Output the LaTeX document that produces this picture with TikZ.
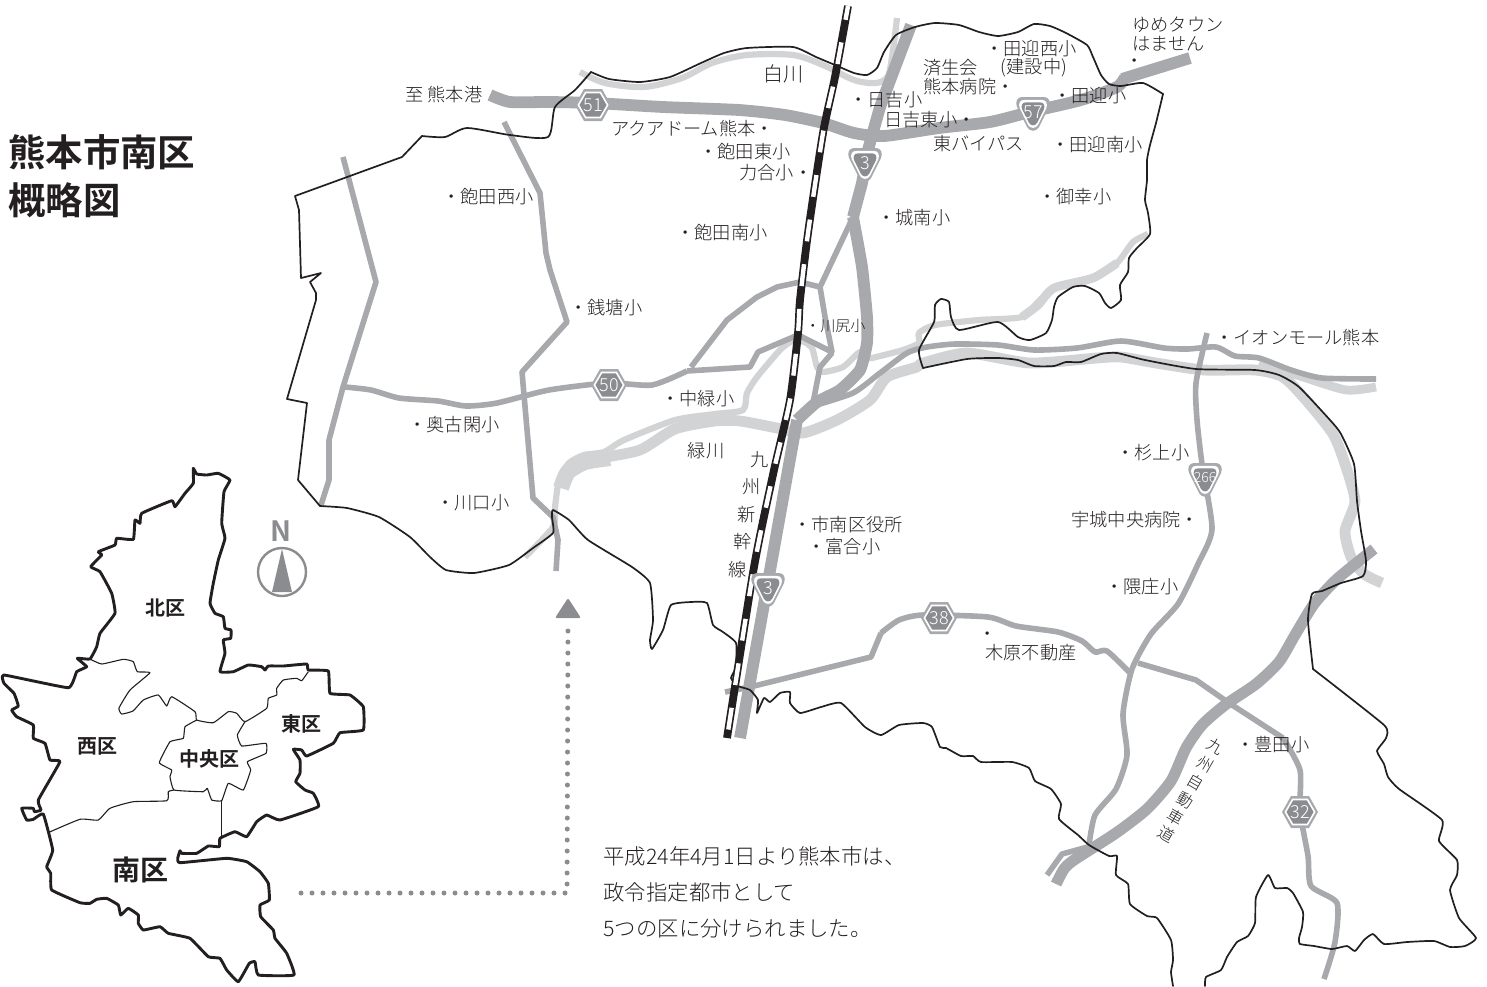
\documentclass[tikz,border=0pt]{standalone}
\usepackage{fontspec}
\setmainfont[BoldFont={Noto Sans CJK JP Bold}]{Noto Sans CJK JP Light}
\definecolor{ink}{HTML}{231F20}
\definecolor{roadc}{HTML}{A7A9AC}
\definecolor{riverc}{HTML}{D1D3D4}
\definecolor{signc}{HTML}{8A8C8F}
\newcommand{\hexsign}[4]{%
 \begin{scope}[shift={(#2,#3)}]
 \fill[roadc] (-18,0)--(-9,-16)--(9,-16)--(18,0)--(9,16)--(-9,16)--cycle;
 \fill[white] (-15.5,0)--(-7.8,-13.4)--(7.8,-13.4)--(15.5,0)--(7.8,13.4)--(-7.8,13.4)--cycle;
 \fill[signc] (-13.5,0)--(-6.8,-11.6)--(6.8,-11.6)--(13.5,0)--(6.8,11.6)--(-6.8,11.6)--cycle;
 \node[signtxt] (#1) at (0,0) {#4};
 \end{scope}}
\newcommand{\shieldpath}{(-11,-17)--(11,-17) .. controls (16,-17) and (18,-12) .. (16,-7)--(6,13) .. controls (3,18) and (-3,18) .. (-6,13)--(-16,-7) .. controls (-18,-12) and (-16,-17) .. (-11,-17)--cycle}
\newcommand{\shieldsign}[5][9]{%
 \begin{scope}[shift={(#3,#4)}]
 \fill[roadc] \shieldpath;
 \fill[white,scale=.83] \shieldpath;
 \fill[signc,scale=.68] \shieldpath;
 \node[signtxt,font=\fontsize{#1}{#1}\selectfont] (#2) at (0,-2) {#5};
 \end{scope}}
\tikzset{
 boundary/.style={draw=ink,line width=.85pt,line join=round,line cap=round},
 wardout/.style={draw=ink,line width=1.45pt,line join=round},
 wardin/.style={draw=ink,line width=.55pt,line join=round},
 roadthin/.style={draw=roadc,line width=2.8pt,line join=round},
 roadthick/.style={draw=roadc,line width=5.9pt,line join=round},
 riverthin/.style={draw=riverc,line width=3.1pt,line join=round},
 riverthick/.style={draw=riverc,line width=5.4pt,line join=round},
 signtxt/.style={text=white,font=\fontsize{9}{9}\selectfont,inner sep=0pt},
 lab/.style={anchor=west,inner sep=0pt,text=ink,font=\fontsize{9.1}{9.1}\selectfont},
 labc/.style={inner sep=0pt,text=ink,font=\fontsize{9.1}{9.1}\selectfont},
 ward/.style={inner sep=0pt,text=ink,font=\fontsize{10}{10}\selectfont\bfseries},
 note/.style={anchor=west,inner sep=0pt,text=ink,font=\fontsize{10.7}{10.7}\selectfont},
 title/.style={anchor=west,inner sep=0pt,text=ink,font=\fontsize{18.7}{18.7}\selectfont\bfseries},
}
\begin{document}
\begin{tikzpicture}[x=0.5pt,y=-0.5pt]
\useasboundingbox (0,0) rectangle (1487,986);
% rivers
\draw[riverthin] plot[smooth,tension=.5] coordinates {(580,72)(605,83)(644,87)(682,78)(712,63)(747,55)(793,55)(823,65)(854,80)(876,83)(888,76)(893,50)(897,18)};
\draw[riverthin] plot[smooth,tension=.4] coordinates {(1148,234)(1133,242)(1117,263)(1093,278)(1054,288)(1038,302)(1022,317)(979,320)(935,325)(919,333)(919,343)(903,350)(876,357)(870,358)(860,352)(843,367)(823,372)(817,367)(812,348)(802,341)(792,341)(780,350)(757,377)(747,393)(743,410)(715,414)(675,420)(624,440)(604,452)(584,455)(569,463)(559,480)(555,507)(553,527)(525,557)};
\draw[riverthin,line width=4.4pt] plot[smooth,tension=.4] coordinates {(1117,263)(1093,278)(1054,288)(1038,305)(1022,317)};
\draw[riverthick] plot[smooth,tension=.4] coordinates {(1382,583)(1364,574)(1351,557)(1345,531)(1355,501)(1345,464)(1333,434)(1306,400)(1283,377)(1255,370)(1204,370)(1156,363)(1121,357)(1097,358)(1030,363)(967,353)(923,363)(917,367)(887,377)(870,400)(837,420)(803,433)(777,428)(740,421)(715,421)(675,429)(640,450)(600,458)(575,462)};
\draw[riverthick,line width=8pt] plot[smooth,tension=.4] coordinates {(610,458)(585,462)(568,472)(561,488)};
\draw[riverthick,line width=4.4pt] plot[smooth,tension=.4] coordinates {(1259,363)(1300,376)(1346,390)(1376,387)};
% roads
\draw[roadthick] plot[smooth,tension=.4] coordinates {(490,95)(510,102)(548,102)(594,103)(663,107)(739,110)(785,115)(823,123)(854,133)(884,136)(939,128)(990,122)(1030,112)(1081,100)(1117,87)(1125,77)};
\draw[roadthick] (1122,79)--(1190,58);
\draw[roadthick] (911,25)--(880,107)--(868,150)--(862,183)--(853,217);
\draw[roadthick] plot[smooth,tension=.3] coordinates {(853,217)(862,267)(867,317)(867,343)(860,370)(840,390)(817,402)(797,420)};
\draw[roadthick] (797,420)--(740,738);
\draw[roadthin] (343,157)--(376,282)--(343,387)--(329,440)--(329,480)--(321,505);
\draw[roadthin] (504,122)--(540,193)--(546,253)--(550,270)--(567,322)--(522,372)--(533,498)--(553,517)--(558,540)--(556,571);
\draw[roadthin] plot[smooth,tension=.4] coordinates {(345,387)(371,390)(399,398)(438,401)(466,406)(497,403)(549,390)(608,383)(652,385)(687,371)};
\draw[roadthin] (687,371)--(750,367)--(758,352)--(798,335)--(832,352)--(825,317)--(820,287)--(800,282)--(777,287)--(757,297)--(727,320)--(691,367);
\draw[roadthin] (853,217)--(820,287);
\draw[roadthin] (832,353)--(820,367)--(813,403);
\draw[roadthin] plot[smooth,tension=.4] coordinates {(813,406)(853,393)(880,373)(907,353)(927,347)(955,344)(998,345)(1034,350)(1077,348)(1121,341)(1164,348)(1188,349)(1216,347)(1235,356)(1259,358)(1291,370)(1322,378)(1376,379)};
\draw[roadthin] plot[smooth,tension=.4] coordinates {(1207,333)(1196,383)(1197,420)(1202,464)(1212,529)(1198,564)(1178,604)(1151,634)(1132,669)(1123,714)(1127,755)(1116,789)(1095,815)(1089,845)};
\draw[roadthin] (725,692)--(750,687)--(871,657)--(881,633) plot[smooth,tension=.4] coordinates {(881,633)(899,620)(923,615)(988,617)(1016,626)(1058,632)(1082,641)(1095,652)(1107,651)(1130,673)};
\draw[roadthin] (1138,663)--(1196,680)--(1229,703)--(1283,738) plot[smooth,tension=.4] coordinates {(1283,738)(1300,770)(1300,811)(1308,856)(1311,886)(1337,903)(1335,942)(1324,979)};
\draw[roadthin] (1095,845)--(1062,854)--(1047,875);
\draw[roadthick,line width=5.6pt] plot[smooth,tension=.4] coordinates {(1374,549)(1337,579)(1314,604)(1295,635)(1279,662)(1256,684)(1225,705)(1202,725)(1186,748)(1171,781)(1147,809)(1116,833)(1074,860)(1064,869)(1056,884)};
% boundary of Minami-ku
\draw[boundary] plot[smooth,tension=.35] coordinates {(591,72)(609,79)(640,82)(670,77)(701,63)(724,53)(747,48)(793,47)(816,57)(835,65)(854,73)(867,75)(877,68)(884,52)(896,35)(915,27)(935,23)(959,25)(979,32)(998,36)(1018,32)(1034,24)(1050,26)(1066,33)(1087,45)(1093,57)(1101,75)(1109,84)(1121,86)(1143,83)(1163,94)};
\draw[boundary] plot[smooth,tension=.35] coordinates {(1163,94)(1156,123)(1150,145)(1147,160)(1147,180)(1145,200)(1148,213)(1150,234)(1137,248)(1129,258)(1128,272)(1120,285)(1121,300)(1111,308)(1105,303)(1099,293)(1085,286)(1073,287)(1058,297)(1054,307)(1052,320)(1046,333)(1030,340)(1018,337)(998,322)(959,330)(951,317)(949,302)(941,299)(935,305)(934,322)(919,350)(923,368)};
\draw[boundary] plot[smooth,tension=.35] coordinates {(923,368)(967,359)(998,358)(1018,360)(1034,366)(1054,366)(1066,362)(1081,362)(1101,354)(1117,353)(1145,360)(1196,369)(1255,370)(1279,375)(1299,387)(1330,420)(1341,434)(1354,464)(1357,501)(1361,531)(1366,561)(1363,576)(1341,583)(1322,591)(1312,594)(1308,620)(1313,669)};
\draw[boundary] plot[smooth,tension=.3] coordinates {(1313,669)(1384,725)(1386,738)(1377,751)(1384,764)(1388,777)(1399,789)(1442,820)(1439,841)(1457,860)(1457,875)(1450,890)(1459,918)(1476,938)(1465,946)(1450,947)(1434,941)(1407,942)(1384,944)(1373,934)(1364,940)(1355,951)(1347,946)(1332,949)(1314,946)(1300,944)(1299,938)(1302,927)(1303,912)(1293,893)(1287,888)(1275,888)(1268,875)(1256,897)(1255,923)(1248,936)(1237,942)(1227,957)(1221,970)(1206,977)(1205,986)};
\draw[boundary] plot[smooth,tension=.3] coordinates {(1173,986)(1171,972)(1173,960)(1171,940)(1157,918)(1147,916)(1130,904)(1128,884)(1116,875)(1117,856)(1109,856)(1089,845)(1078,835)(1059,819)(1061,804)(1051,789)(1035,781)(1029,768)(1012,762)(981,762)(973,756)(961,756)(946,748)(940,747)(932,727)(923,723)(899,725)(881,735)(865,727)(841,703)(821,707)(800,713)(790,703)(790,692)(780,693)(770,702)(764,698)(757,713)(758,700)(750,690)(738,686)(731,678)(736,667)(736,643)(723,632)(713,625)(707,603)(691,602)(671,605)(663,630)(652,649)(650,640)(653,620)(650,583)(632,567)(588,540)(569,520)(553,510)(552,517)(553,533)(533,548)(509,565)(474,573)(446,570)(430,557)(410,537)(379,517)(347,508)(320,506)};
\draw[boundary] (320,506)--(298,480)--(307,403)--(287,399)--(316,300)--(316,293)--(310,282)--(321,273)--(301,278)--(299,210)--(295,196)--(402,157)--(422,136);
\draw[boundary] plot[smooth,tension=.4] coordinates {(422,136)(445,137)(467,128)(510,135)(548,137)(555,107)(575,90)(591,72)};
% railway
\coordinate (railtop) at (848,6);
\coordinate (railend) at (727,738);
\path[draw=ink,line width=3.9pt] plot[smooth,tension=.4] coordinates {(railtop)(835,77)(823,133)(808,233)(800,300)(798,333)(790,400)(774,470)(754,567)(railend)};
\path[draw=white,line width=2.2pt,dash pattern=on 11pt off 11.5pt,dash phase=4pt] plot[smooth,tension=.4] coordinates {(railtop)(835,77)(823,133)(808,233)(800,300)(798,333)(790,400)(774,470)(754,567)(railend)};
% signs
\hexsign{s51}{593}{105}{51}
\hexsign{s50}{609}{385}{50}
\hexsign{s38}{939}{618}{38}
\hexsign{s32}{1300}{812}{32}
\shieldsign{s3a}{865}{165}{3}
\shieldsign{s57}{1033}{114}{57}
\shieldsign[7]{s266}{1205}{480}{266}
\shieldsign{s3b}{768}{590}{3}
% labels
\node[lab] (l01) at (405,95) {至 熊本港};
\node[labc,font=\fontsize{10}{10}\selectfont] (l02) at (783,74) {白川};
\node[lab] (l03) at (611,129) {アクアドーム熊本・};
\node[lab] (l04) at (699,152) {・飽田東小};
\node[lab] (l05) at (739,173) {力合小・};
\node[lab] (l06) at (442,197) {・飽田西小};
\node[lab] (l07) at (676,233) {・飽田南小};
\node[lab] (l08) at (569,308) {・銭塘小};
\node[lab] (l09) at (877,218) {・城南小};
\node[lab] (l10) at (849,100) {・日吉小};
\node[lab] (l11) at (884,120) {日吉東小・};
\node[lab] (l12) at (933,144) {東バイパス};
\node[lab] (l13) at (923,68) {済生会};
\node[lab] (l14) at (923,87) {熊本病院・};
\node[lab] (l15) at (985,49) {・田迎西小};
\node[labc] (l16) at (1034,68) {(建設中)};
\node[lab] (l17) at (1053,96) {・田迎小};
\node[lab] (l18) at (1132,25) {ゆめタウン};
\node[lab] (l19) at (1132,44) {はません};
\node[labc] (l20) at (1135,63) {・};
\node[lab] (l21) at (1051,145) {・田迎南小};
\node[lab] (l22) at (1038,197) {・御幸小};
\node[lab] (l23) at (1215,338) {・イオンモール熊本};
\node[lab,font=\fontsize{7.5}{7.5}\selectfont] (l24) at (805,326) {・川尻小};
\node[lab] (l25) at (661,399) {・中緑小};
\node[lab] (l26) at (408,425) {・奥古閑小};
\node[lab] (l27) at (436,503) {・川口小};
\node[labc] (l28) at (706,451) {緑川};
\node[labc] (k1) at (760,460) {九};
\node[labc] (k2) at (752,487) {州};
\node[labc] (k3) at (747,515) {新};
\node[labc] (k4) at (743,542) {幹};
\node[labc] (k5) at (738,570) {線};
\node[lab] (l29) at (793,525) {・市南区役所};
\node[lab] (l30) at (807,547) {・富合小};
\node[lab] (l31) at (1116,453) {・杉上小};
\node[lab] (l32) at (1071,520) {宇城中央病院・};
\node[lab] (l33) at (1105,587) {・隈庄小};
\node[labc] (l34) at (988,636) {・};
\node[lab] (l35) at (985,653) {木原不動産};
\node[lab] (l36) at (1236,745) {・豊田小};
\tikzset{expr/.style={labc,rotate=-30,font=\fontsize{8}{8}\selectfont}}
\node[expr] (e1) at (1215,746) {九};
\node[expr] (e2) at (1205,764) {州};
\node[expr] (e3) at (1195,782) {自};
\node[expr] (e4) at (1185,800) {動};
\node[expr] (e5) at (1175,817) {車};
\node[expr] (e6) at (1166,834) {道};
% title
\node[title] (t1) at (8,152) {熊本市南区};
\node[title] (t2) at (8,200) {概略図};
% ward map
\draw[wardout] plot[smooth cycle,tension=.2] coordinates {(193.3,468.3)(196.7,474)(206.7,475)(218.3,473.3)(230,480)(224,491.7)(221.7,523.3)(225,538.3)(218.3,560)(213.3,583.3)(210,603.3)(215,613.3)(223.3,616.7)(225,628.3)(231,630)(230.7,638.3)(223.3,640)(225,653.3)(220,671.7)(233.3,671.7)(248.3,665)(261.7,666.7)(265,670)(268.3,666)(283.3,666)(306.7,664)(308.3,670)(328.3,671)(330,693.3)(350,695)(363.3,706.7)(363.3,730)(340,732.7)(333.3,743.3)(306.7,756)(301.7,750)(293.3,749.3)(300,760)(300,773.3)(295.7,781.7)(305,790)(313.3,793.3)(318.3,806.7)(280,820)(266.7,815)(256.7,821.7)(246.7,836.7)(235,831.7)(220,838.3)(219.3,846.7)(208.3,846)(196.7,853.3)(181.7,853.3)(180,850.7)(177.7,858.3)(180,862.7)(226.7,858.3)(246.7,861.7)(260,871.7)(268.3,883.3)(269.3,900)(260,905)(260.7,916.7)(273.3,930)(275,938.3)(286.7,953.3)(294,975)(258.3,975)(255,961.7)(249.3,963.3)(238.3,981.7)(226.7,970)(220,958.3)(208.3,956.7)(190,938.3)(168.3,933.3)(160,926.7)(143.3,930)(138.3,923.3)(138.3,915)(128.3,908.3)(120.7,915)(118.3,905)(106.7,898.3)(96.7,899.3)(90,903.3)(80,902.7)(51.7,890)(50.7,873.3)(46.7,866.7)(52.7,850)(43.3,814)(33.3,819.3)(26.7,820)(21.7,808.3)(33.3,808.3)(34.3,811.7)(41,810)(38.3,800)(60,761.7)(50,760)(45,743.3)(33.3,738.3)(33.3,725)(16.7,716.7)(11.7,710)(18.3,706)(14,693.3)(4,683.3)(4,675)(68.3,687.7)(76.7,671.7)(86.7,666.7)(77.3,658.3)(90,659)(96.7,646.7)(100,633.3)(115,613.3)(111.7,593.3)(100,571.7)(90.7,566.7)(101.7,555)(98.3,551.7)(115,545)(116.7,538.3)(133.3,539.3)(135,520)(140,523.3)(141.7,513.3)(171.7,500.7)(175,506.7)(185,493.3)(193.3,483.3)};
\draw[wardin] plot[smooth,tension=.25] coordinates {(90,659)(101.7,664)(123.3,659.3)(133.3,661.7)(137.3,671.7)(150,672.7)(130,690)(119,708)(121.7,714)(133,711)(143.3,700)(158.3,695)(166.7,706)(171.7,696.7)(195,711.7)(196.7,720)(213.3,722.7)(228.3,711.7)(236.7,713.3)(245,721.7)(266.7,708.3)(268.3,698.3)(276.7,695)(276.7,688.3)(283.3,680)(296.7,678.3)(301.7,680.7)(308.3,671.7)};
\draw[wardin] plot[smooth,tension=.2] coordinates {(196.7,720)(185,726.7)(183.3,738.3)(170,741.7)(159.3,762.7)(171.7,770)(170,776.7)(174,790)(203.3,791.7)(207.3,788.3)(211.7,800)(221.7,800.7)(228.3,783.3)(243.3,790)(250.7,770)(247.3,761.7)(266,753.3)(266,743.3)(241.7,746)(237.3,735)(245,721.7)};
\draw[wardin] plot[smooth,tension=.3] coordinates {(49,832.3)(80,819.3)(98.3,820)(110,808.3)(133.3,801.7)(166.7,800.7)(168.3,791.7)(174,790)};
\draw[wardin] (221.7,800.7)--(221.7,837);
\node[ward] (w1) at (165,608) {北区};
\node[ward] (w2) at (97,746) {西区};
\node[ward] (w3) at (209,759) {中央区};
\node[ward] (w4) at (301,724) {東区};
\node[ward,font=\fontsize{14}{14}\selectfont\bfseries] (w5) at (140,870) {南区};
% north arrow
\node[inner sep=0pt,text=signc,font=\fontsize{14}{14}\selectfont\bfseries] (north) at (281,531) {N};
\draw[draw=signc,line width=1.2pt] (282,572) circle[radius=24];
\fill[signc] (282,549)--(292,592)--(272,592)--cycle;
% note
\node[note] (n1) at (603,856) {平成24年4月1日より熊本市は、};
\node[note] (n2) at (603,892) {政令指定都市として};
\node[note] (n3) at (603,929) {5つの区に分けられました。};
% dotted arrow
\coordinate (dotstart) at (301,893);
\coordinate (dotcorner) at (567,893);
\coordinate (dotend) at (568,622);
\draw[draw=signc,line width=2.5pt,line cap=round,dash pattern=on 0pt off 5.5pt] (dotstart)--(dotcorner)--(dotend);
\fill[signc,rounded corners=1pt] (568,598)--(581,618)--(555,618)--cycle;
\end{tikzpicture}
\end{document}
